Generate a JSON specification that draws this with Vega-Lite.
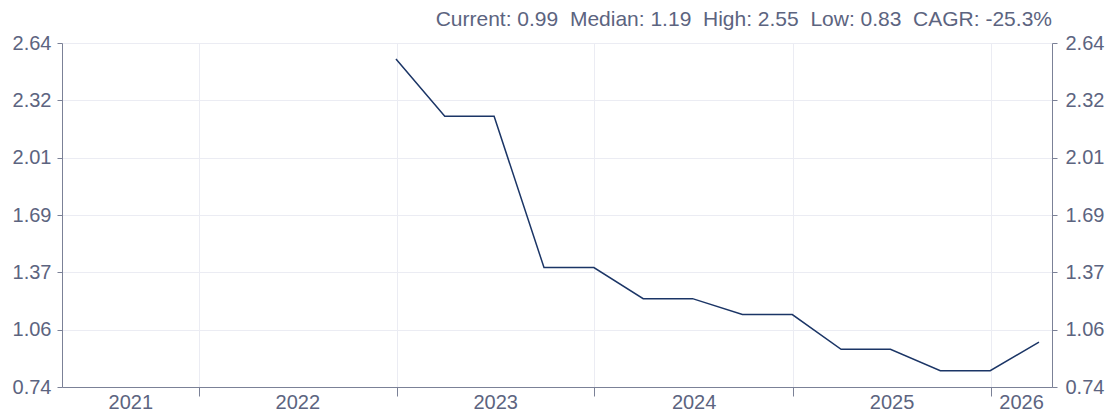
{
  "$schema": "https://vega.github.io/schema/vega-lite/v6.json",
  "autosize": {"type": "none"},
  "padding": {"left": 62, "top": 43, "right": 56, "bottom": 27},
  "width": 990,
  "height": 344,
  "background": "white",
  "title": {
    "text": "Current: 0.99\u00a0\u00a0Median: 1.19\u00a0\u00a0High: 2.55\u00a0\u00a0Low: 0.83\u00a0\u00a0CAGR: -25.3%",
    "anchor": "end",
    "orient": "top",
    "frame": "group",
    "font": "Liberation Sans",
    "fontSize": 21,
    "fontWeight": "normal",
    "color": "#5c6480",
    "offset": 3
  },
  "config": {
    "view": {"stroke": null},
    "axis": {
      "labelFont": "Liberation Sans",
      "labelFontSize": 20,
      "labelColor": "#5c6480",
      "domainColor": "#7b8197",
      "tickColor": "#7b8197",
      "gridColor": "#ebecf3",
      "title": null
    }
  },
  "data": {
    "values": [
      {"date": "2022-12-31", "value": 2.552},
      {"date": "2023-03-31", "value": 2.235},
      {"date": "2023-06-30", "value": 2.235},
      {"date": "2023-09-30", "value": 1.400},
      {"date": "2023-12-31", "value": 1.400},
      {"date": "2024-03-31", "value": 1.228},
      {"date": "2024-06-30", "value": 1.228},
      {"date": "2024-09-30", "value": 1.140},
      {"date": "2024-12-31", "value": 1.140},
      {"date": "2025-03-31", "value": 0.948},
      {"date": "2025-06-30", "value": 0.948},
      {"date": "2025-09-30", "value": 0.830},
      {"date": "2025-12-31", "value": 0.830},
      {"date": "2026-03-31", "value": 0.988}
    ]
  },
  "resolve": {"axis": {"x": "independent", "y": "independent"}},
  "layer": [
    {
      "mark": {"type": "line", "color": "#1b3566", "strokeWidth": 1.5},
      "encoding": {
        "x": {
          "field": "date",
          "type": "temporal",
          "scale": {
            "type": "utc",
            "domain": [
              {"year": 2021, "month": 4, "date": 24, "utc": true},
              {"year": 2026, "month": 4, "date": 24, "utc": true}
            ]
          },
          "axis": {
            "orient": "bottom",
            "values": [
              {"year": 2022, "month": 1, "date": 1, "utc": true},
              {"year": 2023, "month": 1, "date": 1, "utc": true},
              {"year": 2024, "month": 1, "date": 1, "utc": true},
              {"year": 2025, "month": 1, "date": 1, "utc": true},
              {"year": 2026, "month": 1, "date": 1, "utc": true}
            ],
            "labels": false,
            "grid": true,
            "ticks": true,
            "tickSize": 9,
            "domain": true
          }
        },
        "y": {
          "field": "value",
          "type": "quantitative",
          "scale": {"domain": [0.74, 2.64], "nice": false, "zero": false},
          "axis": {
            "orient": "left",
            "values": [0.74, 1.056667, 1.373333, 1.69, 2.006667, 2.323333, 2.64],
            "format": ".2f",
            "grid": true,
            "tickSize": 5,
            "labelPadding": 6
          }
        }
      }
    },
    {
      "mark": {"type": "line", "strokeOpacity": 0},
      "encoding": {
        "x": {
          "field": "date",
          "type": "temporal",
          "axis": {
            "orient": "bottom",
            "values": [
              {"year": 2021, "month": 8, "date": 28, "utc": true},
              {"year": 2022, "month": 7, "date": 2, "utc": true},
              {"year": 2023, "month": 7, "date": 2, "utc": true},
              {"year": 2024, "month": 7, "date": 2, "utc": true},
              {"year": 2025, "month": 7, "date": 2, "utc": true},
              {"year": 2026, "month": 2, "date": 26, "utc": true}
            ],
            "format": "%Y",
            "labels": true,
            "grid": false,
            "ticks": false,
            "domain": false,
            "labelPadding": 5
          }
        },
        "y": {
          "field": "value",
          "type": "quantitative",
          "axis": {
            "orient": "right",
            "values": [0.74, 1.056667, 1.373333, 1.69, 2.006667, 2.323333, 2.64],
            "format": ".2f",
            "grid": false,
            "tickSize": 5,
            "labelPadding": 8
          }
        }
      }
    }
  ]
}
